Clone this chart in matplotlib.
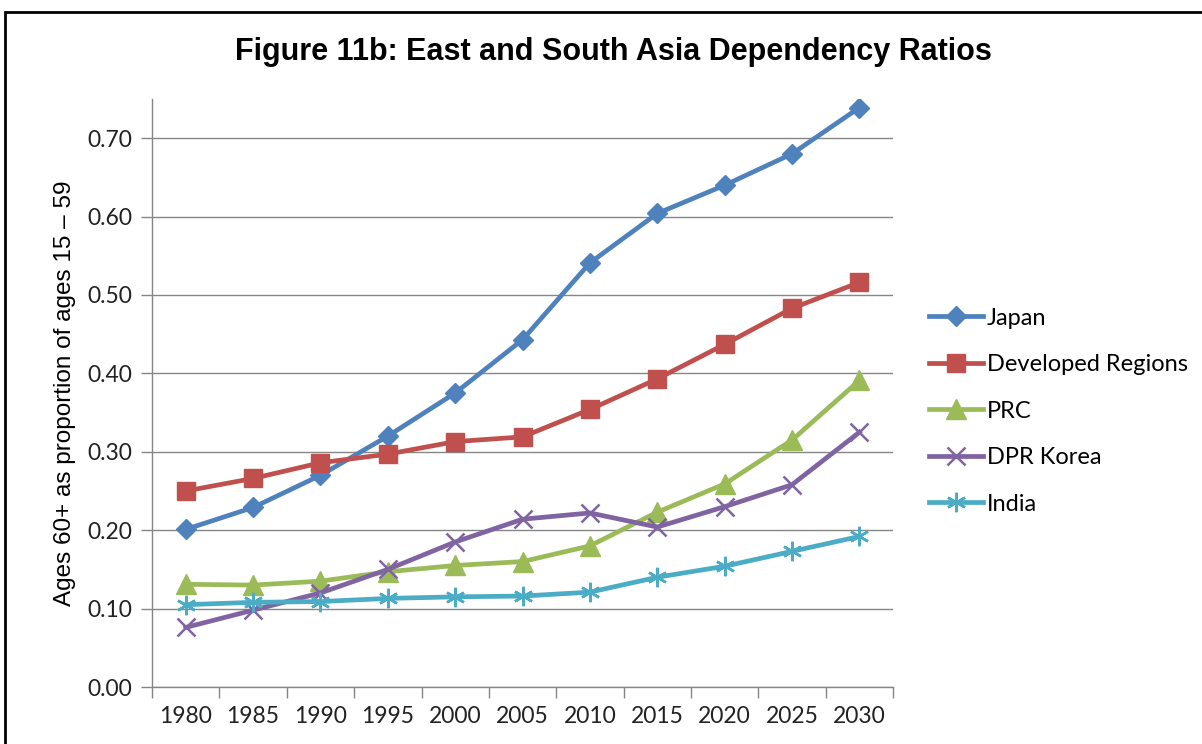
import matplotlib
matplotlib.use("Agg")
import matplotlib.pyplot as plt
from matplotlib.patches import Rectangle

years = ["1980", "1985", "1990", "1995", "2000", "2005", "2010", "2015", "2020", "2025", "2030"]
japan = [0.201, 0.229, 0.270, 0.320, 0.375, 0.443, 0.541, 0.604, 0.640, 0.680, 0.739]
developed = [0.250, 0.266, 0.286, 0.297, 0.313, 0.319, 0.354, 0.393, 0.437, 0.483, 0.516]
prc = [0.131, 0.130, 0.135, 0.147, 0.155, 0.160, 0.180, 0.223, 0.259, 0.315, 0.391]
dpr_korea = [0.076, 0.098, 0.120, 0.150, 0.185, 0.214, 0.222, 0.204, 0.230, 0.258, 0.325]
india = [0.105, 0.108, 0.109, 0.113, 0.115, 0.116, 0.121, 0.140, 0.154, 0.173, 0.192]

plt.rcParams['font.family'] = ['Lato', 'DejaVu Sans']

fig = plt.figure(figsize=(12.02, 7.44), dpi=100)
ax = fig.add_axes([0.1265, 0.0766, 0.6165, 0.7904])

x = range(len(years))
lw = 3.4
ax.plot(x, japan, color='#4F81BD', lw=lw, marker='D', ms=10, label='Japan')
ax.plot(x, developed, color='#C0504D', lw=lw, marker='s', ms=13, label='Developed Regions')
ax.plot(x, prc, color='#9BBB59', lw=lw, marker='^', ms=14, label='PRC')
ax.plot(x, dpr_korea, color='#8064A2', lw=lw, marker='x', ms=13, mew=1.8, label='DPR Korea')
ax.plot(x, india, color='#4BACC6', lw=lw, marker=(6, 2, 0), ms=14, mew=1.8, label='India')

ax.set_xlim(-0.5, len(years) - 0.5)
ax.set_ylim(0, 0.75)
ax.set_yticks([i / 10 for i in range(8)])
ax.set_yticklabels(['%.2f' % (i / 10) for i in range(8)])
ax.set_xticks(list(x))
ax.set_xticklabels(years)
ax.set_xticks([i - 0.5 for i in range(len(years) + 1)], minor=True)
ax.tick_params(axis='x', which='major', length=0, pad=14, labelsize=16.5, colors='#222222')
ax.tick_params(axis='x', which='minor', length=8, width=1, color='#868686', direction='out')
ax.tick_params(axis='y', length=8, width=1, color='#868686', pad=6, labelsize=16.5, labelcolor='#222222')

ax.grid(axis='y', color='#868686', lw=1)
ax.set_axisbelow(True)
for side in ['top', 'right']:
    ax.spines[side].set_visible(False)
for side in ['left', 'bottom']:
    ax.spines[side].set_color('#868686')
    ax.spines[side].set_linewidth(1)

ax.set_ylabel('Ages 60+ as proportion of ages 15 \u2013 59', fontsize=17.5, labelpad=8,
              family=['Liberation Sans', 'DejaVu Sans'])

fig.text(0.51, 0.93, 'Figure 11b: East and South Asia Dependency Ratios',
         ha='center', va='center', fontsize=22, fontweight='bold',
         family=['Liberation Sans', 'DejaVu Sans'])

ax.legend(loc='center left', bbox_to_anchor=(1.02, 0.469), frameon=False,
          fontsize=17, labelspacing=1.08, handlelength=2.3, handletextpad=0.15)

fig.patches.append(Rectangle((5 / 1202, -0.1), 1.2, 1.1 - 12 / 744,
                             transform=fig.transFigure, fill=False,
                             edgecolor='black', lw=2, zorder=10))

fig.savefig('out.png', dpi=100)
